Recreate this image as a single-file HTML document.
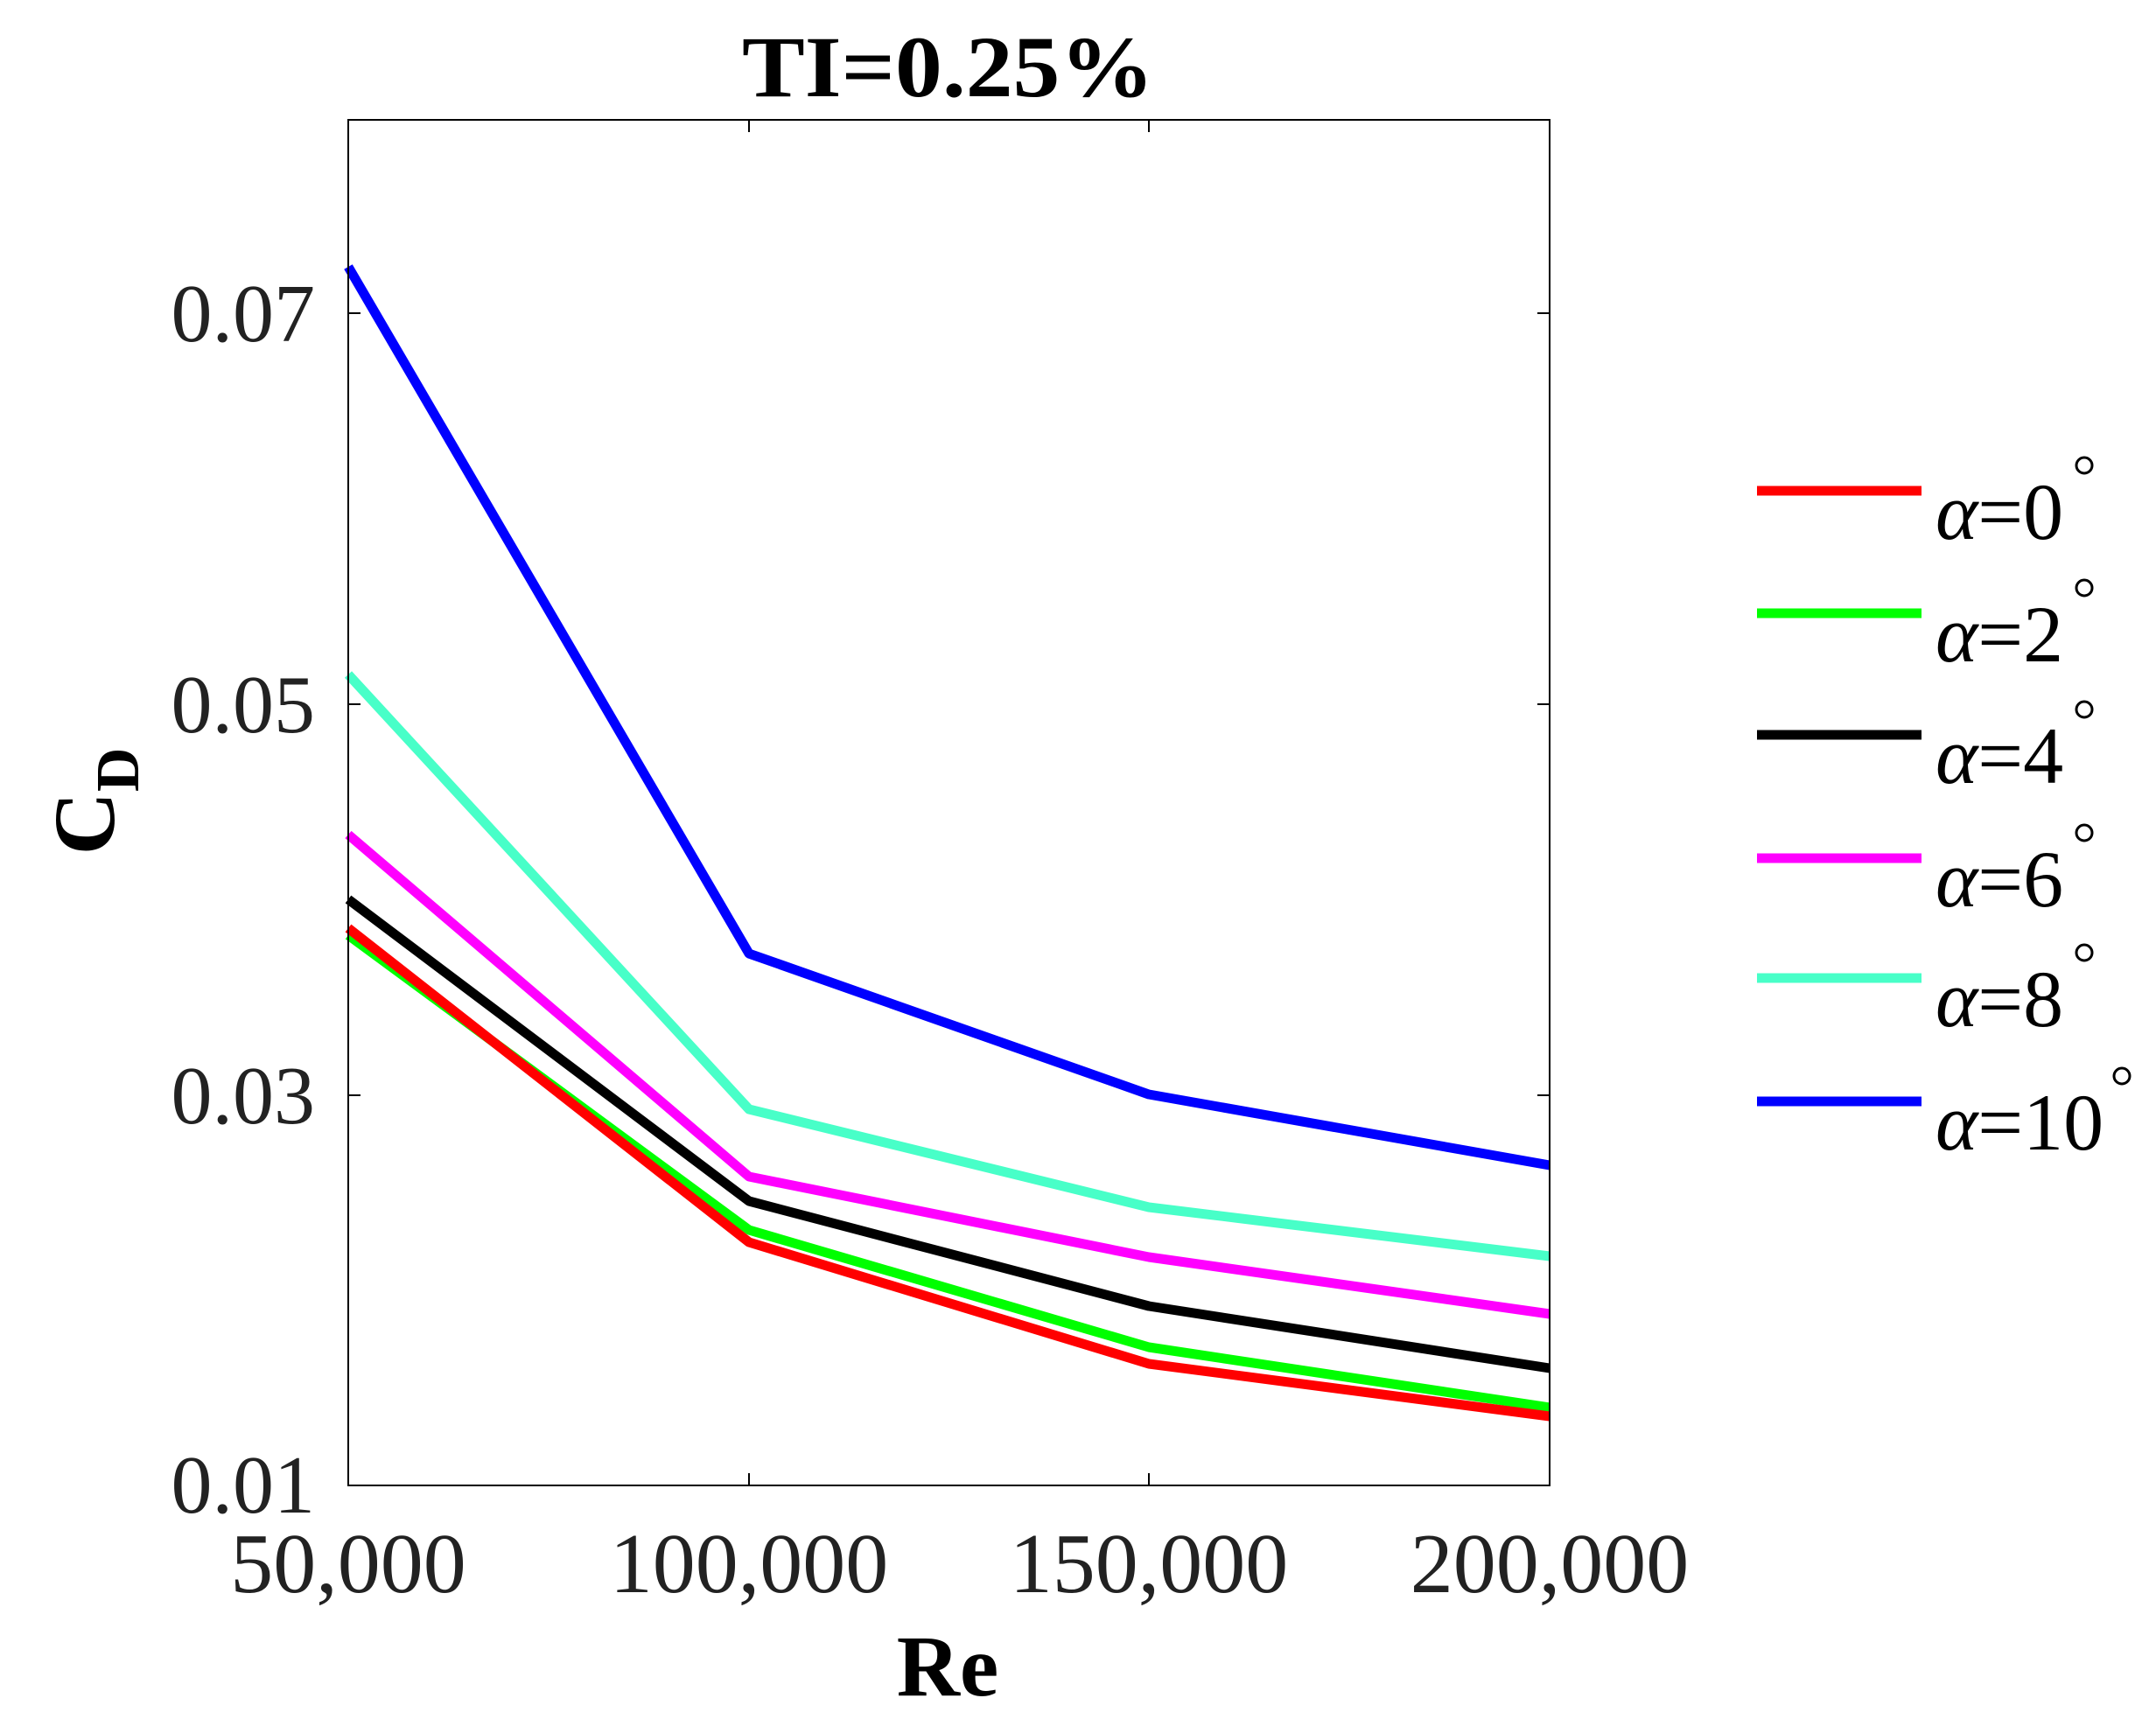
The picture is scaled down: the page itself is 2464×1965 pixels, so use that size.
<!DOCTYPE html>
<html><head><meta charset="utf-8"><style>body{margin:0;background:#fff}svg{display:block}</style></head>
<body>
<svg width="2464" height="1965" viewBox="0 0 2464 1965" xmlns="http://www.w3.org/2000/svg">
<rect width="2464" height="1965" fill="#fff"/>
<g fill="none" stroke-width="11" stroke-linejoin="round">
<polyline stroke="#0000ff" points="398,305 856,1090 1313,1251 1771,1332"/>
<polyline stroke="#48ffc8" points="398,771 856,1268 1313,1380 1771,1436"/>
<polyline stroke="#ff00ff" points="398,954 856,1345 1313,1437 1771,1502"/>
<polyline stroke="#000" points="398,1028 856,1373 1313,1493 1771,1564"/>
<polyline stroke="#00ff00" points="398,1069 856,1406 1313,1540 1771,1609"/>
<polyline stroke="#ff0000" points="398,1061 856,1420 1313,1559 1771,1619"/>
</g>
<g stroke="#000" stroke-width="2" fill="none">
<rect x="398" y="137" width="1373" height="1561"/>
<path d="M856,1698v-14M1313,1698v-14M856,137v14M1313,137v14M398,358h14M398,805h14M398,1252h14M1771,358h-14M1771,805h-14M1771,1252h-14"/>
</g>
<g font-family="Liberation Serif, serif" font-size="94" fill="#222" text-anchor="end">
<text x="360" y="390">0.07</text>
<text x="360" y="837">0.05</text>
<text x="360" y="1284">0.03</text>
<text x="360" y="1729">0.01</text>
</g>
<g font-family="Liberation Serif, serif" font-size="98" fill="#222" text-anchor="middle">
<text x="398" y="1820">50,000</text>
<text x="856" y="1820">100,000</text>
<text x="1313" y="1820">150,000</text>
<text x="1771" y="1820">200,000</text>
</g>
<text x="848" y="110" textLength="471" lengthAdjust="spacingAndGlyphs" font-family="Liberation Serif, serif" font-weight="bold" font-size="100" fill="#000">TI=0.25%</text>
<text x="1083" y="1938" font-family="Liberation Serif, serif" font-weight="bold" font-size="100" text-anchor="middle" fill="#000">Re</text>
<text transform="translate(130,916) rotate(-90)" font-family="Liberation Serif, serif" font-weight="bold" font-size="100" text-anchor="middle" fill="#000">C<tspan font-size="70" dy="28">D</tspan></text>
<g stroke-width="11">
<line x1="2008" y1="561" x2="2196" y2="561" stroke="#ff0000"/>
<line x1="2008" y1="701" x2="2196" y2="701" stroke="#00ff00"/>
<line x1="2008" y1="840" x2="2196" y2="840" stroke="#000"/>
<line x1="2008" y1="981" x2="2196" y2="981" stroke="#ff00ff"/>
<line x1="2008" y1="1118" x2="2196" y2="1118" stroke="#48ffc8"/>
<line x1="2008" y1="1259" x2="2196" y2="1259" stroke="#0000ff"/>
</g>
<g font-family="Liberation Serif, serif" font-size="92" fill="#000">
<text x="2212" y="616"><tspan font-style="italic">α</tspan>=0</text>
<text x="2212" y="756"><tspan font-style="italic">α</tspan>=2</text>
<text x="2212" y="895"><tspan font-style="italic">α</tspan>=4</text>
<text x="2212" y="1036"><tspan font-style="italic">α</tspan>=6</text>
<text x="2212" y="1173"><tspan font-style="italic">α</tspan>=8</text>
<text x="2212" y="1314"><tspan font-style="italic">α</tspan>=10</text>
</g>
<g fill="none" stroke="#000" stroke-width="3">
<circle cx="2382" cy="532" r="9"/>
<circle cx="2382" cy="672" r="9"/>
<circle cx="2382" cy="811" r="9"/>
<circle cx="2382" cy="952" r="9"/>
<circle cx="2382" cy="1089" r="9"/>
<circle cx="2425" cy="1230" r="9"/>
</g>
</svg>
</body></html>
